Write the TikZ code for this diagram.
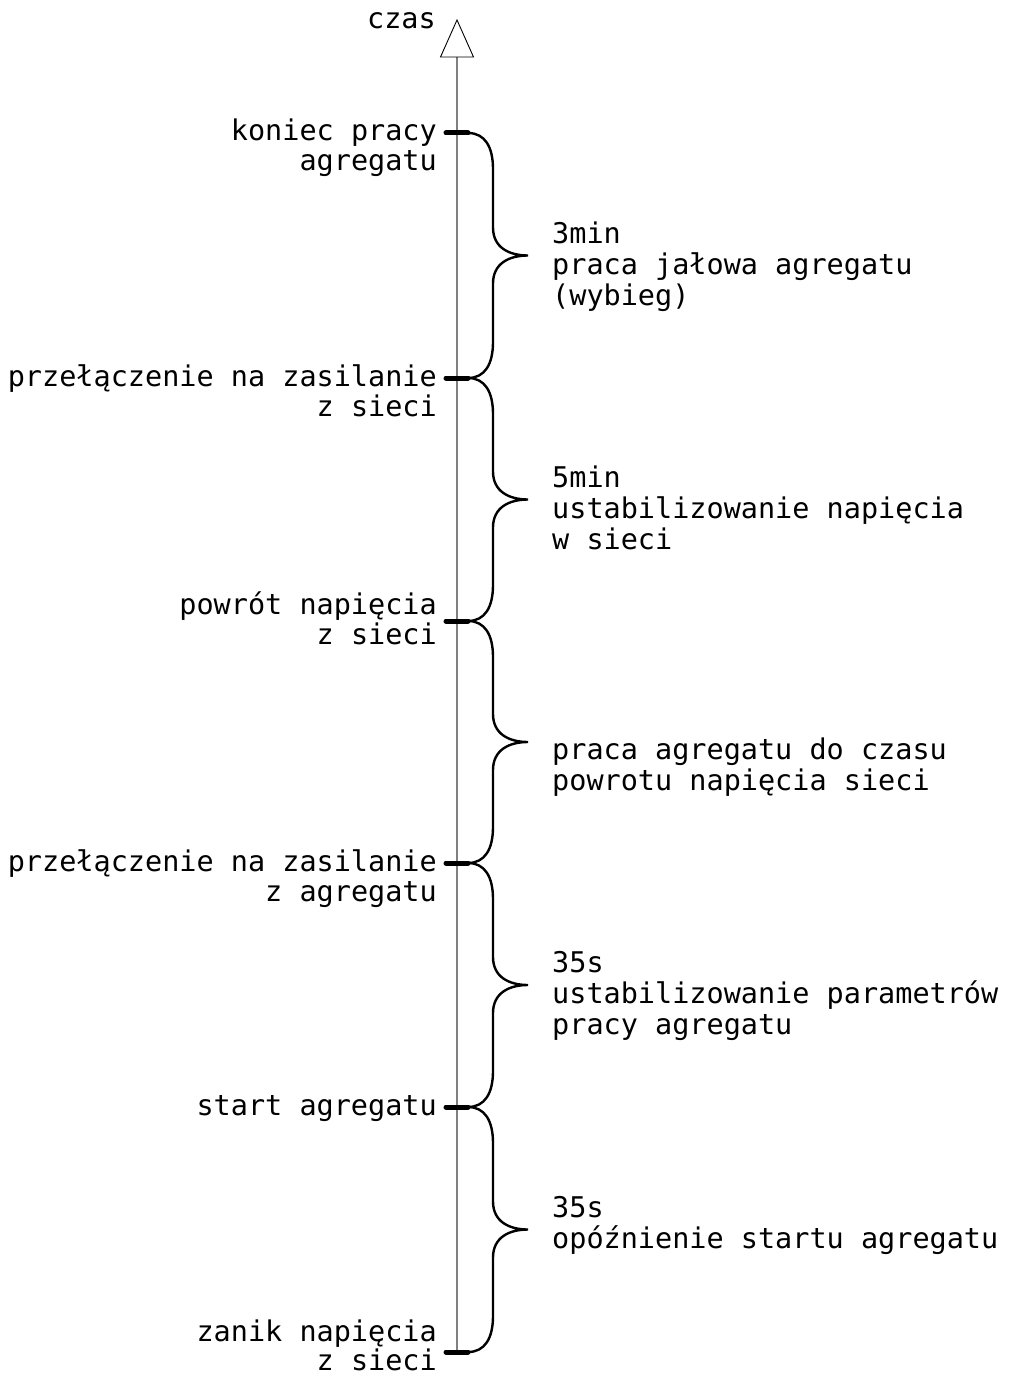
\documentclass[tikz,border=0pt]{standalone}
\usepackage{fontspec}
\newfontfamily\cadfont{DejaVu Sans Mono}
\usetikzlibrary{calc}
\tikzset{
  lbl/.style={font=\cadfont\fontsize{28.5}{31}\selectfont, inner sep=0pt, text=black},
  lefttxt/.style={lbl, anchor=base east},
  righttxt/.style={lbl, anchor=base west},
  axisline/.style={draw=black!50, line width=1.3pt},
  tickmark/.style={draw=black, line width=5pt, line cap=round},
  bracestroke/.style={draw=black, line width=2.4pt},
  arrowhead/.style={draw=black, fill=white, line width=0.9pt, line join=miter}
}
\begin{document}
\begin{tikzpicture}[x=1pt, y=-1pt]
\path[use as bounding box] (0,0) rectangle (1031,1375);
% ticks on the time axis
\coordinate (t1) at (457,133);
\coordinate (t2) at (457,378);
\coordinate (t3) at (457,621);
\coordinate (t4) at (457,863);
\coordinate (t5) at (457,1107);
\coordinate (t6) at (457,1352);
\coordinate (top) at (457,57);
\coordinate (apex) at (457,20);
% axis
\draw[axisline] (t6) -- (top);
\draw[arrowhead] (apex) -- ($(top)+(-16.5,0)$) -- ($(top)+(16.5,0)$) -- cycle;
% braces
\foreach \a/\b in {t1/t2, t2/t3, t3/t4, t4/t5, t5/t6}{
  \draw[bracestroke]
    let \p1=(\a), \p2=(\b), \n1={0.5*(\y1+\y2)} in
    (\x1+11pt,\y1) .. controls (\x1+28pt,\y1) and (\x1+36pt,\y1-14pt) .. (\x1+36pt,\y1-36pt)
    -- (\x1+36pt,\n1+28pt) .. controls (\x1+36pt,\n1+8pt) and (\x1+52pt,\n1) .. (\x1+71pt,\n1)
    .. controls (\x1+52pt,\n1) and (\x1+36pt,\n1-8pt) .. (\x1+36pt,\n1-28pt)
    -- (\x1+36pt,\y2+36pt) .. controls (\x1+36pt,\y2+14pt) and (\x1+28pt,\y2) .. (\x1+11pt,\y2);
}
% tick marks
\foreach \t in {t1,t2,t3,t4,t5,t6}{
  \draw[tickmark] ($(\t)+(-11,0)$) -- ($(\t)+(11,0)$);
}
% left labels
\node[lefttxt] (czas) at (436,29) {czas};
\node[lefttxt] (l1a) at (437,141) {koniec pracy};
\node[lefttxt] (l1b) at (437,171) {agregatu};
\node[lefttxt] (l2a) at (437,386) {przełączenie na zasilanie};
\node[lefttxt] (l2b) at (437,416) {z sieci};
\node[lefttxt] (l3a) at (437,614) {powrót napięcia};
\node[lefttxt] (l3b) at (437,644) {z sieci};
\node[lefttxt] (l4a) at (437,871) {przełączenie na zasilanie};
\node[lefttxt] (l4b) at (437,901) {z agregatu};
\node[lefttxt] (l5a) at (437,1115) {start agregatu};
\node[lefttxt] (l6a) at (437,1341) {zanik napięcia};
\node[lefttxt] (l6b) at (437,1370) {z sieci};
% right labels
\node[righttxt] (r1a) at (552,243) {3min};
\node[righttxt] (r1b) at (552,274) {praca jałowa agregatu};
\node[righttxt] (r1c) at (552,305) {(wybieg)};
\node[righttxt] (r2a) at (552,487) {5min};
\node[righttxt] (r2b) at (552,518) {ustabilizowanie napięcia};
\node[righttxt] (r2c) at (552,549) {w sieci};
\node[righttxt] (r3a) at (552,759) {praca agregatu do czasu};
\node[righttxt] (r3b) at (552,790) {powrotu napięcia sieci};
\node[righttxt] (r4a) at (552,972) {35s};
\node[righttxt] (r4b) at (552,1003) {ustabilizowanie parametrów};
\node[righttxt] (r4c) at (552,1034) {pracy agregatu};
\node[righttxt] (r5a) at (552,1217) {35s};
\node[righttxt] (r5b) at (552,1248) {opóźnienie startu agregatu};
\end{tikzpicture}
\end{document}
